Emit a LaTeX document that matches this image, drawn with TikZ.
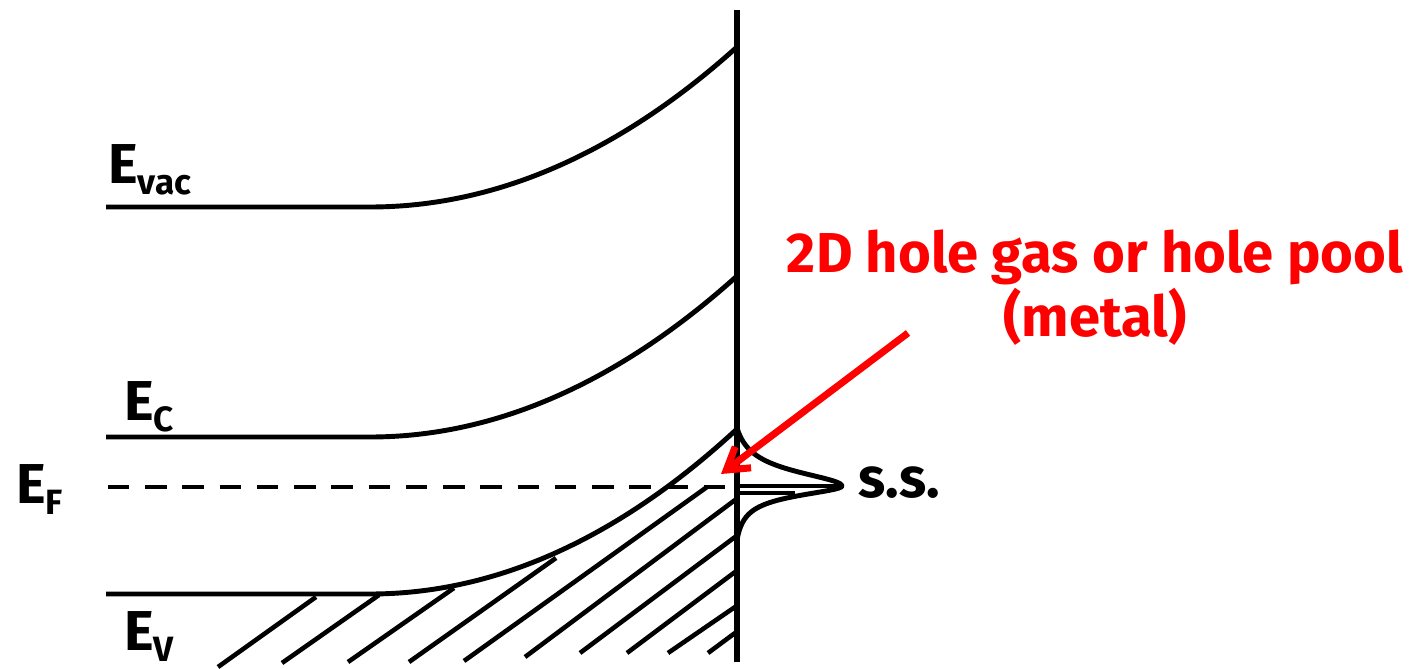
\documentclass[tikz,border=0pt]{standalone}
\usepackage{fontspec}
\setmainfont{Fira Sans}
\usetikzlibrary{arrows.meta,positioning}
\definecolor{holered}{RGB}{255,0,0}
\newcommand{\sublbl}[1]{\raisebox{-6.5pt}{\fontsize{20}{20}\selectfont #1}}

\begin{document}
\begin{tikzpicture}[x=0.02cm,y=-0.02cm,
  band/.style={line width=2.8pt,line join=round},
  hatchline/.style={line width=2.6pt},
  lvl/.style={anchor=base west,inner sep=0pt,font=\fontsize{32}{32}\selectfont\bfseries},
  gaslbl/.style={inner sep=0pt,align=center,text=holered,font=\fontsize{32}{36.3}\selectfont\bfseries}]
\useasboundingbox (0,0) rectangle (1427,669);
% surface
\draw[line width=3.4pt] (737,10) -- (737,662);
% bands
\draw[band] (106,207) -- (370,207) .. controls (495,207) and (618,154) .. (737,47);
\draw[band] (106,437) -- (370,437) .. controls (495,437) and (618,383) .. (737,276);
\draw[band] (106,594) -- (370,594) .. controls (495,594) and (618,539) .. (737,429);
\draw[line width=2.8pt,dash pattern=on 12.2pt off 9pt] (108,487) -- (727,487);
% filled states
\foreach \xa/\ya/\xb/\yb in {218/667/316/597, 282/663/379/595, 348/662/454/588,
    409/662/556/558, 464/661/707/487, 525/657/735/500, 580/653/735/537,
    627/653/735/572, 668/653/735/607, 708/653/735/633}
  \draw[hatchline] (\xa,\ya) -- (\xb,\yb);
% surface states
\draw[band] plot[domain=428:486,samples=50,variable=\y] ({737+115*(1/(1+((\y-486)/18)^2)-0.088)},\y)
  -- plot[domain=486:540,samples=50,variable=\y] ({737+110.2*(1/(1+((\y-486)/12)^2)-0.047)},\y);
\draw[band] (737,486) -- (842,486);
\draw[band] (737,493) -- (795,493);
% labels
\node[lvl] (evac) at (108,183) {E\sublbl{vac}};
\node[lvl] (ec) at (124,420) {E\sublbl{C}};
\node[lvl] (ef) at (16,503) {E\sublbl{F}};
\node[lvl] (ev) at (124,650) {E\sublbl{V}};
\node[lvl,font=\fontsize{32}{32}\selectfont\bfseries] (ss) at (858,497) {s.s.};
\node[gaslbl] (gas) at (1095,288) {2D hole gas or hole pool\\(metal)};
\coordinate (tail) at (908,333);
\coordinate (tip) at (721,474);
\draw[holered,line width=4pt,-{Straight Barb[length=12pt,width=15pt]}] (tail) -- (tip);
\end{tikzpicture}
\end{document}
